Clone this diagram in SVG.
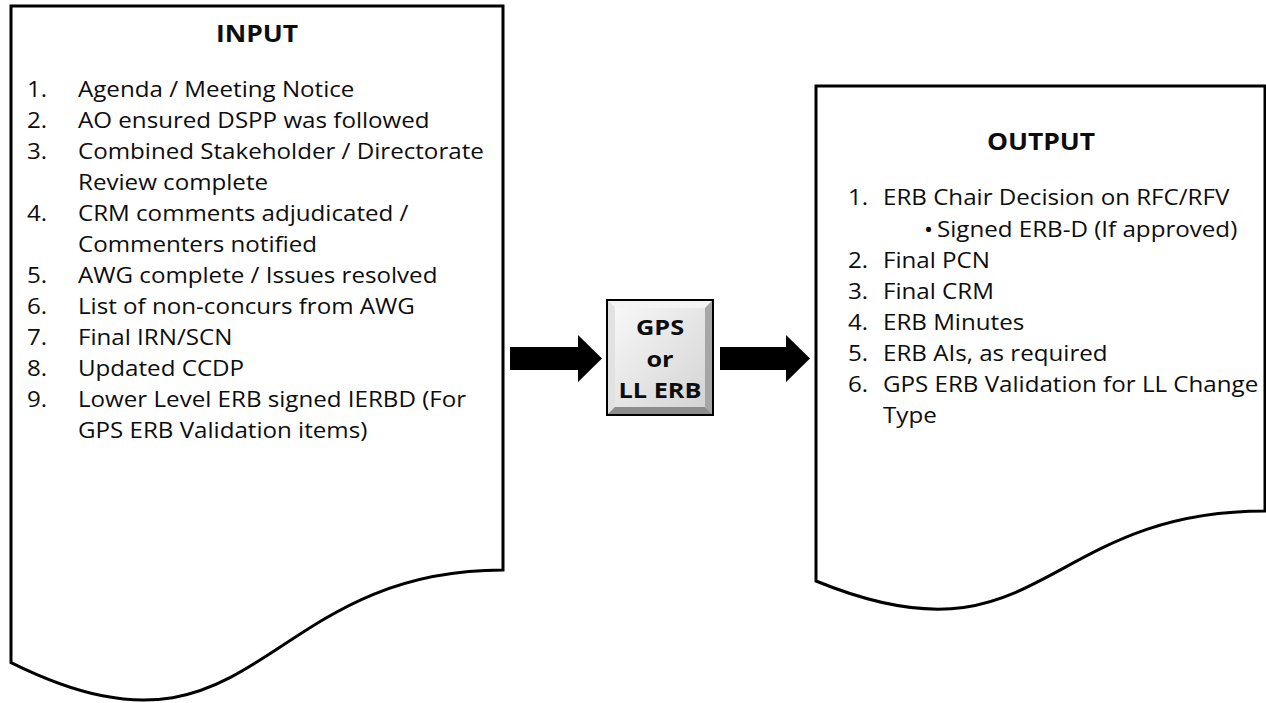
<svg xmlns="http://www.w3.org/2000/svg" width="1266" height="703" viewBox="0 0 1266 703">
  <defs>
    <style>
      .doc { fill: #ffffff; stroke: #000000; stroke-width: 3; stroke-linejoin: miter; }
      .arrow { fill: #000000; stroke: none; }
      .t { font-family: "Open Sans", "Liberation Sans", sans-serif; font-size: 21px; fill: #0d0d0d; }
      .title { font-family: "Open Sans", "Liberation Sans", sans-serif; font-size: 23px; font-weight: bold; fill: #0d0d0d; text-anchor: middle; }
      .btn { font-family: "Open Sans", "Liberation Sans", sans-serif; font-size: 22px; font-weight: bold; fill: #0d0d0d; text-anchor: middle; }
    </style>
    <linearGradient id="face" x1="0" y1="0" x2="1" y2="1">
      <stop offset="0" stop-color="#f7f7f7"/>
      <stop offset="1" stop-color="#d4d4d4"/>
    </linearGradient>
  </defs>

  <!-- Input document -->
  <g id="input">
    <path class="doc" d="M11,6 H503 V570 C257,570 257,784.6 11,662.6 Z"/>
    <text class="title" transform="matrix(1.15 0 0 1 257 42)">INPUT</text>
    <text class="t" transform="matrix(1.15 0 0 1 27 97)">1.</text>
    <text class="t" transform="matrix(1.15 0 0 1 78 97)">Agenda / Meeting Notice</text>
    <text class="t" transform="matrix(1.15 0 0 1 27 128)">2.</text>
    <text class="t" transform="matrix(1.15 0 0 1 78 128)">AO ensured DSPP was followed</text>
    <text class="t" transform="matrix(1.15 0 0 1 27 159)">3.</text>
    <text class="t" transform="matrix(1.15 0 0 1 78 159)">Combined Stakeholder / Directorate</text>
    <text class="t" transform="matrix(1.15 0 0 1 78 190)">Review complete</text>
    <text class="t" transform="matrix(1.15 0 0 1 27 221)">4.</text>
    <text class="t" transform="matrix(1.15 0 0 1 78 221)">CRM comments adjudicated /</text>
    <text class="t" transform="matrix(1.15 0 0 1 78 252)">Commenters notified</text>
    <text class="t" transform="matrix(1.15 0 0 1 27 283)">5.</text>
    <text class="t" transform="matrix(1.15 0 0 1 78 283)">AWG complete / Issues resolved</text>
    <text class="t" transform="matrix(1.15 0 0 1 27 314)">6.</text>
    <text class="t" transform="matrix(1.15 0 0 1 78 314)">List of non-concurs from AWG</text>
    <text class="t" transform="matrix(1.15 0 0 1 27 345)">7.</text>
    <text class="t" transform="matrix(1.15 0 0 1 78 345)">Final IRN/SCN</text>
    <text class="t" transform="matrix(1.15 0 0 1 27 376)">8.</text>
    <text class="t" transform="matrix(1.15 0 0 1 78 376)">Updated CCDP</text>
    <text class="t" transform="matrix(1.15 0 0 1 27 407)">9.</text>
    <text class="t" transform="matrix(1.15 0 0 1 78 407)">Lower Level ERB signed IERBD (For</text>
    <text class="t" transform="matrix(1.15 0 0 1 78 438)">GPS ERB Validation items)</text>
  </g>

  <!-- Process button -->
  <g id="process">
    <rect x="607" y="300" width="106" height="115" fill="#c4c4c4" stroke="#000000" stroke-width="2"/>
    <polygon points="608,301 712,301 705,308 615,308" fill="#f4f4f4"/>
    <polygon points="608,301 615,308 615,407 608,414" fill="#e2e2e2"/>
    <polygon points="608,414 615,407 705,407 712,414" fill="#8c8c8c"/>
    <polygon points="712,301 712,414 705,407 705,308" fill="#a6a6a6"/>
    <rect x="615" y="308" width="90" height="99" fill="url(#face)"/>
    <text class="btn" transform="matrix(1.15 0 0 1 660 335)">GPS</text>
    <text class="btn" transform="matrix(1.15 0 0 1 660 367)">or</text>
    <text class="btn" transform="matrix(1.15 0 0 1 660 398)">LL ERB</text>
  </g>

  <!-- Output document -->
  <g id="output">
    <path class="doc" d="M816,86 H1265 V511 C1040.5,511 1040.5,673 816,581 Z"/>
    <text class="title" transform="matrix(1.15 0 0 1 1041 150)">OUTPUT</text>
    <text class="t" transform="matrix(1.15 0 0 1 848 205)">1.</text>
    <text class="t" transform="matrix(1.15 0 0 1 883 205)">ERB Chair Decision on RFC/RFV</text>
    <text class="t" transform="matrix(1.15 0 0 1 924 237)">•</text>
    <text class="t" transform="matrix(1.15 0 0 1 937 237)">Signed ERB-D (If approved)</text>
    <text class="t" transform="matrix(1.15 0 0 1 848 268)">2.</text>
    <text class="t" transform="matrix(1.15 0 0 1 883 268)">Final PCN</text>
    <text class="t" transform="matrix(1.15 0 0 1 848 299)">3.</text>
    <text class="t" transform="matrix(1.15 0 0 1 883 299)">Final CRM</text>
    <text class="t" transform="matrix(1.15 0 0 1 848 330)">4.</text>
    <text class="t" transform="matrix(1.15 0 0 1 883 330)">ERB Minutes</text>
    <text class="t" transform="matrix(1.15 0 0 1 848 361)">5.</text>
    <text class="t" transform="matrix(1.15 0 0 1 883 361)">ERB AIs, as required</text>
    <text class="t" transform="matrix(1.15 0 0 1 848 392)">6.</text>
    <text class="t" transform="matrix(1.15 0 0 1 883 392)">GPS ERB Validation for LL Change</text>
    <text class="t" transform="matrix(1.15 0 0 1 883 423)">Type</text>
  </g>

  <!-- Block arrows between the stages -->
  <g id="connectors">
    <polygon class="arrow" points="510,347 578,347 578,335 602,358.5 578,382 578,370 510,370"/>
    <polygon class="arrow" points="720,347 786,347 786,335 810,358.5 786,382 786,370 720,370"/>
  </g>
</svg>
